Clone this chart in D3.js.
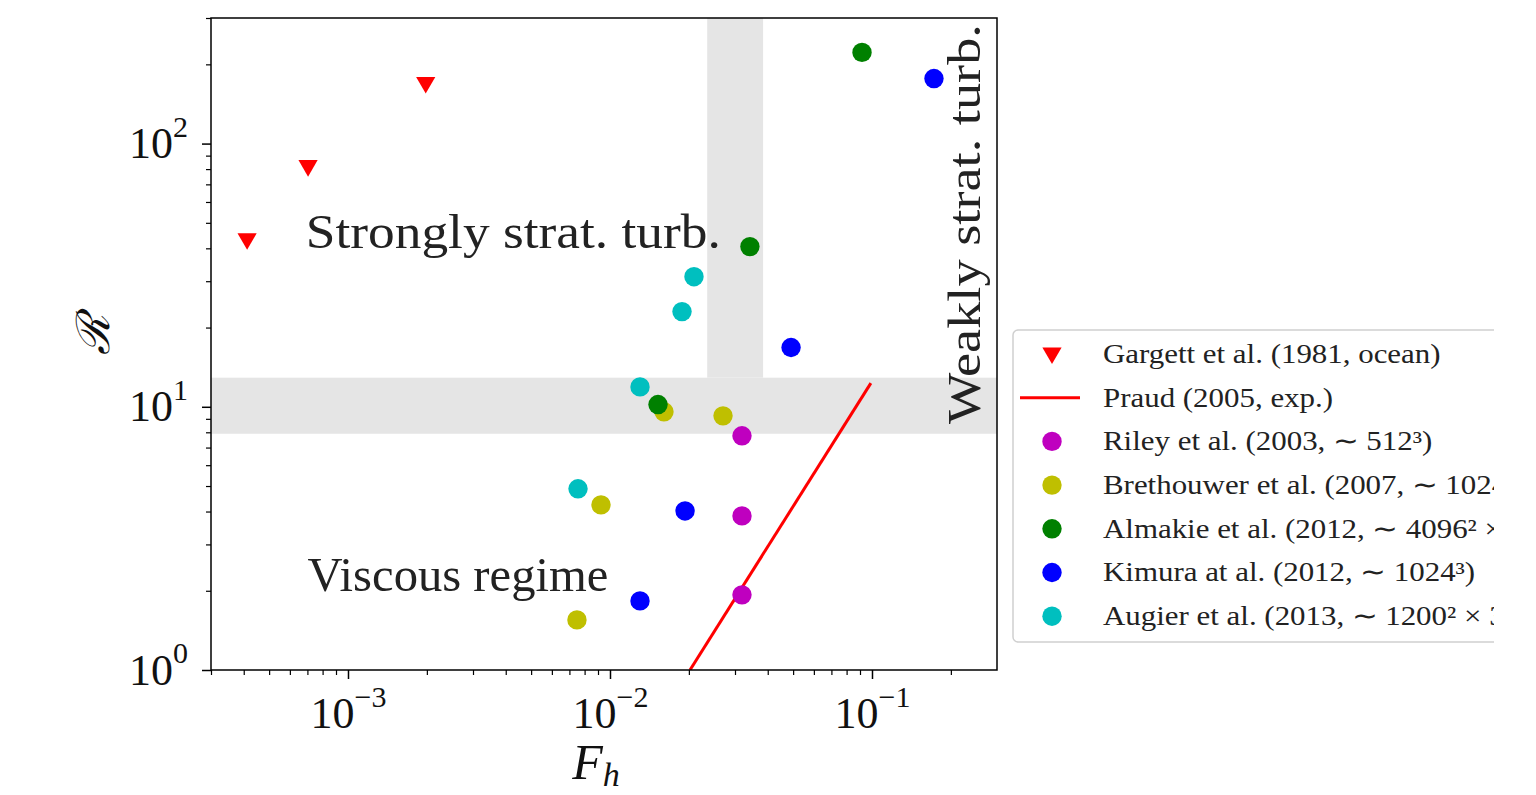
<!DOCTYPE html>
<html>
<head>
<meta charset="utf-8">
<script src="https://cdn.jsdelivr.net/npm/d3@7"></script>
<style>
  body { margin: 0; background: #fff; }
  svg text { font-family: "Liberation Serif", serif; }
</style>
</head>
<body>
<svg id="chart" width="1536" height="795"></svg>
<script>
// Series data (Fh, R)
const names = [
  "Gargett et al. (1981, ocean)",
  "Praud (2005, exp.)",
  "Riley et al. (2003, \u223c 512\u00b3)",
  "Brethouwer et al. (2007, \u223c 1024\u00b3)",
  "Almakie et al. (2012, \u223c 4096\u00b2 \u00d7 512)",
  "Kimura at al. (2012, \u223c 1024\u00b3)",
  "Augier et al. (2013, \u223c 1200\u00b2 \u00d7 320)"
];
const colors = ["red", "red", "#bf00bf", "#bfbf00", "#008000", "#0000ff", "#00bfbf"];

const gargettFh = [4.12e-4, 7.04e-4, 1.98e-3];
const gargettR = [43.5, 82.5, 170.6];
const praudFh = [0.0202, 0.099];
const praudR = [1.0, 12.3];
const rileyFh = [0.0319, 0.0319, 0.0319];
const rileyR = [7.76, 3.85, 1.93];
const brethFh = [0.01607, 0.0270, 0.00924, 0.00748];
const brethR = [9.57, 9.24, 4.24, 1.55];
const almakieFh = [0.0916, 0.0342, 0.01525];
const almakieR = [222, 40.6, 10.2];
const kimuraFh = [0.1724, 0.0491, 0.01934, 0.01302];
const kimuraR = [176.6, 16.8, 4.02, 1.83];
const augierFh = [0.02092, 0.01883, 0.01302, 0.00755];
const augierR = [31.2, 23.0, 11.9, 4.88];

// regime bands
const hBandR = [7.9, 12.9];
const vBandFh = [0.0235, 0.0384];

const xTicks = [1e-3, 1e-2, 1e-1];
const yTicks = [1, 10, 100];

const margin = { top: 18, left: 211 };
const plotW = 786, plotH = 652;

const svg = d3.select("#chart");

svg.append("clipPath").attr("id", "figclip")
  .append("rect").attr("x", 0).attr("y", 0).attr("width", 1494).attr("height", 795);
svg.append("clipPath").attr("id", "plotclip")
  .append("rect").attr("x", 0).attr("y", 0).attr("width", plotW).attr("height", plotH);

const fig = svg.append("g").attr("clip-path", "url(#figclip)");

const x = d3.scaleLog().domain([3e-4, 0.3]).range([0, plotW]);
const y = d3.scaleLog().domain([1, 300]).range([plotH, 0]);

const g = fig.append("g").attr("transform", `translate(${margin.left},${margin.top})`);
const inner = g.append("g").attr("clip-path", "url(#plotclip)");

// bands
inner.append("rect")
  .attr("x", 0).attr("width", plotW)
  .attr("y", y(hBandR[1])).attr("height", y(hBandR[0]) - y(hBandR[1]))
  .attr("fill", "#e5e5e5");
inner.append("rect")
  .attr("x", x(vBandFh[0])).attr("width", x(vBandFh[1]) - x(vBandFh[0]))
  .attr("y", 0).attr("height", y(hBandR[1]))
  .attr("fill", "#e5e5e5");

// region labels
inner.append("text")
  .attr("x", x(6.9e-4)).attr("y", y(40))
  .attr("font-size", 48).attr("fill", "#222")
  .attr("textLength", 415).attr("lengthAdjust", "spacingAndGlyphs")
  .text("Strongly strat. turb.");
inner.append("text")
  .attr("x", x(7.0e-4)).attr("y", y(2.0))
  .attr("font-size", 49).attr("fill", "#222")
  .attr("textLength", 301).attr("lengthAdjust", "spacingAndGlyphs")
  .text("Viscous regime");
inner.append("text")
  .attr("transform", `translate(${x(0.258)},${y(8.6)}) rotate(-90)`)
  .attr("font-size", 46).attr("fill", "#222")
  .attr("textLength", 400).attr("lengthAdjust", "spacingAndGlyphs")
  .text("Weakly strat. turb.");

// Praud line
const line = d3.line().x(d => x(d[0])).y(d => y(d[1]));
inner.append("path")
  .datum(d3.zip(praudFh, praudR))
  .attr("fill", "none").attr("stroke", colors[1]).attr("stroke-width", 3)
  .attr("d", line);

// triangles
const tri = d3.symbol().type(d3.symbolTriangle).size(160);
inner.selectAll(".gargett")
  .data(d3.zip(gargettFh, gargettR))
  .join("path")
  .attr("class", "gargett")
  .attr("d", tri)
  .attr("transform", d => `translate(${x(d[0])},${y(d[1])}) rotate(180)`)
  .attr("fill", colors[0]);

// circle series
const circleSeries = [
  [rileyFh, rileyR, colors[2]],
  [brethFh, brethR, colors[3]],
  [almakieFh, almakieR, colors[4]],
  [kimuraFh, kimuraR, colors[5]],
  [augierFh, augierR, colors[6]]
];
circleSeries.forEach(([fh, r, c]) => {
  inner.append("g").selectAll("circle")
    .data(d3.zip(fh, r))
    .join("circle")
    .attr("cx", d => x(d[0]))
    .attr("cy", d => y(d[1]))
    .attr("r", 9.7)
    .attr("fill", c);
});

// frame
g.append("rect").attr("width", plotW).attr("height", plotH)
  .attr("fill", "none").attr("stroke", "#000").attr("stroke-width", 1.5);

// minor ticks
const xMinor = [], yMinor = [];
[1e-4, 1e-3, 1e-2, 1e-1].forEach(p => d3.range(2, 10).forEach(k => {
  const v = k * p;
  if (v >= 3e-4 && v <= 0.3) xMinor.push(v);
}));
[1, 10, 100].forEach(p => d3.range(2, 10).forEach(k => {
  const v = k * p;
  if (v <= 300) yMinor.push(v);
}));

g.append("g").attr("transform", `translate(0,${plotH})`)
  .call(d3.axisBottom(x).tickValues(xMinor).tickSize(5).tickFormat(""))
  .call(a => a.select(".domain").remove())
  .selectAll("line").attr("stroke-width", 1.2);
g.append("g")
  .call(d3.axisLeft(y).tickValues(yMinor).tickSize(5).tickFormat(""))
  .call(a => a.select(".domain").remove())
  .selectAll("line").attr("stroke-width", 1.2);

// major ticks
const xAxis = g.append("g").attr("transform", `translate(0,${plotH})`)
  .call(d3.axisBottom(x).tickValues(xTicks).tickSize(9).tickPadding(14).tickFormat(""));
xAxis.select(".domain").remove();
xAxis.selectAll("line").attr("stroke-width", 1.5);
xAxis.selectAll(".tick text")
  .attr("font-family", "'Liberation Serif', serif")
  .attr("font-size", 44).attr("fill", "#111").attr("dy", "0.8em")
  .each(function(d) {
    const t = d3.select(this);
    t.append("tspan").text("10");
    t.append("tspan").attr("font-size", 30).attr("dy", "-0.72em")
      .text("\u2212" + Math.round(-Math.log10(d)));
  });

const yAxis = g.append("g")
  .call(d3.axisLeft(y).tickValues(yTicks).tickSize(9).tickPadding(14).tickFormat(""));
yAxis.select(".domain").remove();
yAxis.selectAll("line").attr("stroke-width", 1.5);
yAxis.selectAll(".tick text")
  .attr("font-family", "'Liberation Serif', serif")
  .attr("font-size", 44).attr("fill", "#111").attr("dy", "0.32em")
  .each(function(d) {
    const t = d3.select(this);
    t.append("tspan").text("10");
    t.append("tspan").attr("font-size", 30).attr("dy", "-0.72em")
      .text(Math.round(Math.log10(d)));
  });

// axis labels
g.append("text")
  .attr("x", plotW / 2 - 8).attr("y", plotH + 109)
  .attr("text-anchor", "middle").attr("font-size", 50).attr("font-style", "italic")
  .attr("fill", "#111")
  .html('F<tspan font-size="34" dy="7">h</tspan>');
g.append("text")
  .attr("transform", `translate(-102,${plotH / 2 - 9}) rotate(-90)`)
  .attr("text-anchor", "middle").attr("font-size", 46)
  .attr("font-family", "'DejaVu Serif', serif").attr("font-style", "italic")
  .attr("fill", "#111")
  .text("\u211b");

// legend
const legX = 1013, legY = 330, rowH = 43.7;
const leg = fig.append("g").attr("transform", `translate(${legX},${legY})`);
leg.append("rect")
  .attr("width", 560).attr("height", 312).attr("rx", 5)
  .attr("fill", "#fff").attr("stroke", "#d0d0d0").attr("stroke-width", 1.5);
names.forEach((n, i) => {
  const cy = 24 + i * rowH;
  const row = leg.append("g").attr("transform", `translate(0,${cy})`);
  if (i === 0) {
    row.append("path").attr("d", tri)
      .attr("transform", "translate(39,-1) rotate(180)").attr("fill", colors[0]);
  } else if (i === 1) {
    row.append("line").attr("x1", 7).attr("x2", 67).attr("y1", 0).attr("y2", 0)
      .attr("stroke", colors[1]).attr("stroke-width", 3);
  } else {
    row.append("circle").attr("cx", 39).attr("cy", 0).attr("r", 9.7).attr("fill", colors[i]);
  }
  row.append("text").attr("transform", "translate(90,0) scale(1.145,1)")
    .attr("dy", "0.33em")
    .attr("font-size", 27).attr("fill", "#222").text(n);
});
</script>
</body>
</html>
